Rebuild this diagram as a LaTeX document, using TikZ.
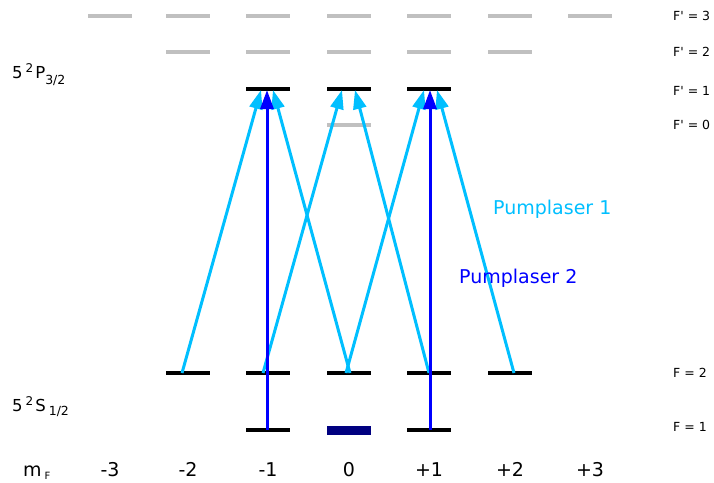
\documentclass[tikz,border=0pt]{standalone}
\usepackage{fontspec}
\setmainfont{DejaVu Sans}
\usetikzlibrary{arrows.meta}
\definecolor{pumpone}{HTML}{00BFFF}
\definecolor{pumptwo}{HTML}{0000FF}
\definecolor{darkbar}{HTML}{000080}
\definecolor{levgray}{HTML}{C0C0C0}
\begin{document}
\begin{tikzpicture}[x=1pt,y=-1pt,
  blevel/.style={line width=3.2pt,black},
  glevel/.style={line width=3.2pt,levgray},
  pumpA/.style={line width=3pt,pumpone,-{Triangle[length=19pt,width=13pt]}},
  pumpB/.style={line width=3pt,pumptwo,-{Triangle[length=19pt,width=13pt]}},
  flbl/.style={font=\fontsize{12.5}{12.5}\selectfont, anchor=west, inner sep=0pt},
  num/.style={font=\fontsize{19}{19}\selectfont, inner sep=0pt, anchor=base},
  plbl/.style={font=\fontsize{19}{19}\selectfont, inner sep=0pt, anchor=base west},
  term/.style={inner sep=0pt, anchor=base west},
]
\useasboundingbox (0,0) rectangle (714,482);
% excited levels
\foreach \x in {110,188,268,349,429,510,590} \draw[glevel] ({\x-22},16) -- ({\x+22},16);
\foreach \x in {188,268,349,429,510} \draw[glevel] ({\x-22},52) -- ({\x+22},52);
\draw[glevel] (327,125) -- (371,125);
\foreach \x in {268,349,429} \draw[blevel] ({\x-22},89) -- ({\x+22},89);
% ground levels
\foreach \x in {188,268,349,429,510} \draw[blevel] ({\x-22},373) -- ({\x+22},373);
\foreach \x in {268,429} \draw[blevel] ({\x-22},430) -- ({\x+22},430);
\fill[darkbar] (327,426) rectangle (371,434.5);
% endpoints
\coordinate (g2m2) at (182,373);
\coordinate (g2m1a) at (263,373);
\coordinate (g2z0a) at (346,373);
\coordinate (g2z0b) at (350,373);
\coordinate (g2p1) at (429,373);
\coordinate (g2p2) at (514,373);
\coordinate (g1m1) at (267,430);
\coordinate (g1p1) at (430,430);
\coordinate (e1m1a) at (261,90);
\coordinate (e1m1b) at (267,90);
\coordinate (e1m1c) at (273,90);
\coordinate (e1z0a) at (342,90);
\coordinate (e1z0b) at (355,90);
\coordinate (e1p1a) at (424,90);
\coordinate (e1p1b) at (430,90);
\coordinate (e1p1c) at (437,90);
% pump laser 1
\draw[pumpA] (g2m2) -- (e1m1a);
\draw[pumpA] (g2m1a) -- (e1z0a);
\draw[pumpA] (g2z0a) -- (e1p1a);
\draw[pumpA] (g2z0b) -- (e1m1c);
\draw[pumpA] (g2p1) -- (e1z0b);
\draw[pumpA] (g2p2) -- (e1p1c);
% pump laser 2
\draw[pumpB] (g1m1) -- (e1m1b);
\draw[pumpB] (g1p1) -- (e1p1b);
% labels
\node[plbl,text=pumpone] (pl1) at (493,214) {Pumplaser 1};
\node[plbl,text=pumptwo] (pl2) at (459,283) {Pumplaser 2};
\node[flbl] (f3) at (673,16) {F\textquotesingle{} = 3};
\node[flbl] (f2) at (673,52) {F\textquotesingle{} = 2};
\node[flbl] (f1) at (673,91) {F\textquotesingle{} = 1};
\node[flbl] (f0) at (673,125) {F\textquotesingle{} = 0};
\node[flbl] (g2) at (673,373) {F = 2};
\node[flbl] (g1) at (673,427) {F = 1};
\node[term] (pterm) at (12,78) {\fontsize{16.5}{16.5}\selectfont 5\hspace{3pt}\raisebox{5.5pt}{\fontsize{12}{12}\selectfont 2}\hspace{2pt}P\raisebox{-6pt}{\fontsize{12.5}{12.5}\selectfont 3/2}};
\node[term] (sterm) at (12,411) {\fontsize{16.5}{16.5}\selectfont 5\hspace{3pt}\raisebox{5.5pt}{\fontsize{12}{12}\selectfont 2}\hspace{2pt}S\hspace{3pt}\raisebox{-4.5pt}{\fontsize{12.5}{12.5}\selectfont 1/2}};
\node[term] (mf) at (23,476) {\fontsize{19}{19}\selectfont m\hspace{3pt}\raisebox{-3pt}{\fontsize{10}{10}\selectfont F}};
\node[num] (n1) at (110,476) {-3};
\node[num] (n2) at (188,476) {-2};
\node[num] (n3) at (268,476) {-1};
\node[num] (n4) at (349,476) {0};
\node[num] (n5) at (429,476) {+1};
\node[num] (n6) at (510,476) {+2};
\node[num] (n7) at (590,476) {+3};
\end{tikzpicture}
\end{document}
